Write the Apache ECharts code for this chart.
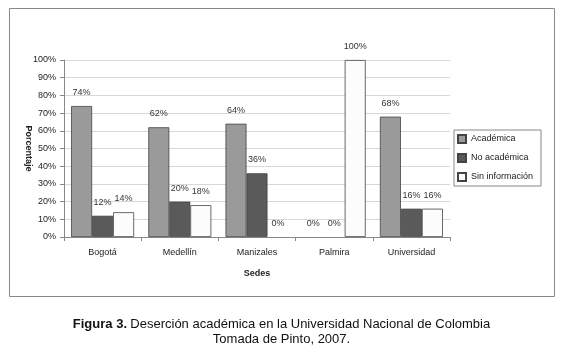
<!DOCTYPE html>
<html><head><meta charset="utf-8">
<script src="https://cdn.jsdelivr.net/npm/echarts@6/dist/echarts.min.js"></script>
<style>html,body{margin:0;padding:0;background:#fff}#c{width:563px;height:353px}</style>
</head><body><div id="c"></div>
<script>
const categories = ['Bogotá','Medellín','Manizales','Palmira','Universidad'];
const academica = [74,62,64,0,68];
const noAcademica = [12,20,36,0,16];
const sinInfo = [14,18,0,100,16];
const yTicks = [0,10,20,30,40,50,60,70,80,90,100];

const chart = echarts.init(document.getElementById('c'), null, {renderer:'canvas'});
const font = 'Liberation Sans, Arial, sans-serif';
function mk(name, data, color){
  return {
    name, type:'bar',
    data: data.map(v => v === 0 ? {value:v, itemStyle:{borderWidth:0}} : v),
    barWidth:21, barGap:'0%',
    itemStyle:{color, borderColor:'#444', borderWidth:0.8},
    label:{show:true, position:'top', formatter:'{c}%', fontFamily:font, fontSize:9, color:'#333', distance:9}
  };
}
chart.setOption({
  animation:false,
  textStyle:{fontFamily:font},
  grid:{left:64, top:60, width:386, height:177},
  legend:{
    orient:'vertical', left:454, top:130, itemWidth:8, itemHeight:8, itemGap:9,
    icon:'rect', textStyle:{fontSize:9, color:'#222', fontFamily:font},
    padding:[4,8,4,3], borderColor:'#888', borderWidth:1,
    data:['Académica','No académica','Sin información']
  },
  xAxis:{
    type:'category', data:categories, name:'Sedes', nameLocation:'middle', nameGap:32,
    nameMoveOverlap:false,
    nameTextStyle:{fontSize:9, fontWeight:'bold', color:'#222', fontFamily:font},
    axisLine:{lineStyle:{color:'#888'}},
    axisTick:{show:true, length:4, lineStyle:{color:'#888'}},
    axisLabel:{fontSize:9, color:'#222', margin:11, fontFamily:font}
  },
  yAxis:{
    type:'value', min:yTicks[0], max:yTicks[yTicks.length-1], interval:10,
    name:'Porcentaje', nameLocation:'middle', nameGap:31, nameRotate:-90,
    nameMoveOverlap:false,
    nameTextStyle:{fontSize:9, fontWeight:'bold', color:'#222', fontFamily:font},
    axisLine:{show:true, lineStyle:{color:'#888'}},
    axisTick:{show:true, length:4, lineStyle:{color:'#888'}},
    axisLabel:{formatter:'{value}%', fontSize:9, color:'#222', margin:8, fontFamily:font},
    splitLine:{lineStyle:{color:'#d8d8d8'}}
  },
  series:[
    mk('Académica', academica, '#9a9a9a'),
    mk('No académica', noAcademica, '#5a5a5a'),
    mk('Sin información', sinInfo, '#fcfcfc')
  ],
  graphic:[
    {type:'rect', shape:{x:9.5, y:8.5, width:545, height:288}, style:{fill:'none', stroke:'#888', lineWidth:1}, silent:true},
    {type:'text', left:'center', top:318, style:{rich:{b:{fontWeight:'bold', fontSize:13, fontFamily:'Liberation Sans Narrow, Liberation Sans, sans-serif', fill:'#111'}, n:{fontSize:13, fontFamily:'Liberation Sans Narrow, Liberation Sans, sans-serif', fill:'#111'}}, text:'{b|Figura 3.} {n|Deserción académica en la Universidad Nacional de Colombia}'}},
    {type:'text', left:'center', top:333, style:{text:'Tomada de Pinto, 2007.', fontSize:13, fontFamily:'Liberation Sans Narrow, Liberation Sans, sans-serif', fill:'#111'}}
  ]
});
</script></body></html>
